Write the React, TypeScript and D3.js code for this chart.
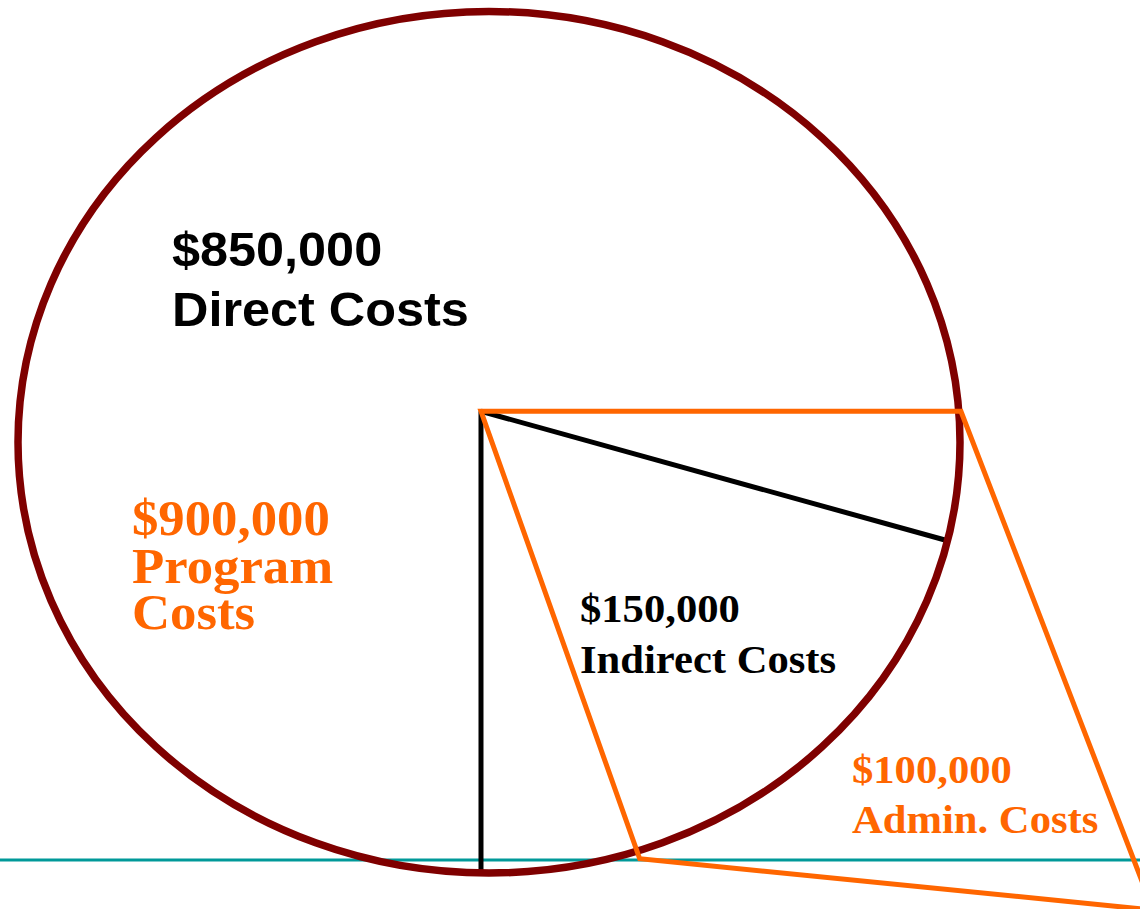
import React from "react";
import * as d3 from "d3";

// ---- data ----
const pieCategories = ["Direct Costs", "Indirect Costs"];
const pieValues = [850000, 150000];
const overlayCategories = ["Program Costs", "Admin. Costs"];
const overlayValues = [900000, 100000];

// diagram geometry in normalized ellipse units (-1..1)
const apex = { x: -0.017, y: -0.072 };
const blackRayEnds = [
  { x: -0.017, y: 1.0 },
  { x: 0.968, y: 0.227 },
];
const orangeQuad = [
  { x: -0.017, y: -0.072 },
  { x: 1.002, y: -0.072 },
  { x: 1.41, y: 1.086 },
  { x: 0.32, y: 0.967 },
];
const tealLevel = 0.97;

const W = 1140;
const H = 909;

const fmt = d3.format("$,");

export default function App() {
  const x = d3.scaleLinear().domain([-1, 1]).range([18, 960]);
  const y = d3.scaleLinear().domain([-1, 1]).range([11.5, 873]);

  const line = d3
    .line<{ x: number; y: number }>()
    .x((d) => x(d.x))
    .y((d) => y(d.y));

  const quadPath = line(orangeQuad) + "Z";

  const sans = "'Liberation Sans', Arial, Helvetica, sans-serif";
  const serif = "'Liberation Serif', 'Times New Roman', Times, serif";

  return (
    <svg
      width={W}
      height={H}
      style={{ position: "absolute", left: 0, top: 0, background: "#fff" }}
    >
      <line
        x1={0}
        x2={W}
        y1={y(tealLevel)}
        y2={y(tealLevel)}
        stroke="#009999"
        strokeWidth={3}
      />
      {blackRayEnds.map((e, i) => (
        <path
          key={i}
          d={line([apex, e]) || ""}
          stroke="#000"
          strokeWidth={5}
          fill="none"
        />
      ))}
      <ellipse
        cx={x(0)}
        cy={y(0)}
        rx={(x(1) - x(-1)) / 2}
        ry={(y(1) - y(-1)) / 2}
        fill="none"
        stroke="#7f0000"
        strokeWidth={7.5}
      />
      <path
        d={quadPath}
        fill="none"
        stroke="#ff6600"
        strokeWidth={5}
        strokeLinejoin="miter"
      />

      {/* Direct costs */}
      <g transform="translate(172,0) scale(1.05,1)">
        <text fontFamily={sans} fontWeight="bold" fontSize={48} fill="#000">
          <tspan x={0} y={266}>{fmt(pieValues[0])}</tspan>
          <tspan x={0} y={326}>{pieCategories[0]}</tspan>
        </text>
      </g>

      {/* Program costs */}
      <g transform="translate(132,0) scale(1.055,1)">
        <text fontFamily={serif} fontWeight="bold" fontSize={50} fill="#ff6600">
          <tspan x={0} y={535}>{fmt(overlayValues[0])}</tspan>
          {overlayCategories[0].split(" ").map((w, i) => (
            <tspan key={i} x={0} y={583 + i * 46}>
              {w}
            </tspan>
          ))}
        </text>
      </g>

      {/* Indirect costs */}
      <g transform="translate(580,0) scale(1.04,1)">
        <text fontFamily={serif} fontWeight="bold" fontSize={41} fill="#000">
          <tspan x={0} y={622}>{fmt(pieValues[1])}</tspan>
          <tspan x={0} y={673}>{pieCategories[1]}</tspan>
        </text>
      </g>

      {/* Admin costs */}
      <g transform="translate(852,0) scale(1.04,1)">
        <text fontFamily={serif} fontWeight="bold" fontSize={41} fill="#ff6600">
          <tspan x={0} y={783}>{fmt(overlayValues[1])}</tspan>
          <tspan x={0} y={833}>{overlayCategories[1]}</tspan>
        </text>
      </g>
    </svg>
  );
}
